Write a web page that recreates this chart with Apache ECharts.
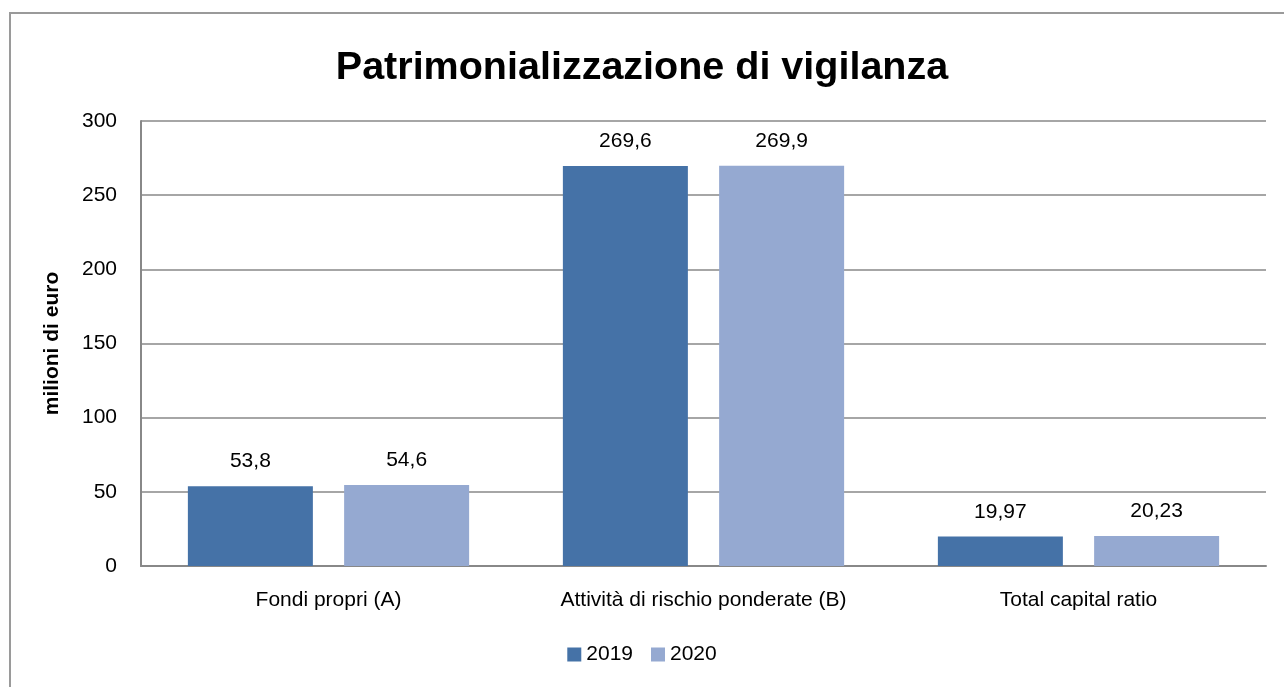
<!DOCTYPE html>
<html>
<head>
<meta charset="utf-8">
<script src="https://cdn.jsdelivr.net/npm/echarts@6/dist/echarts.min.js"></script>
<style>
html, body { margin: 0; padding: 0; background: #fff; }
#frame { position: absolute; left: 9px; top: 12px; width: 1300px; height: 700px; border: 2px solid #9a9a9a; box-sizing: border-box; }
#container { position: absolute; left: 0; top: 0; width: 1284px; height: 687px; }
</style>
</head>
<body>
<div id="frame"></div>
<div id="container"></div>
<script>
// dati del grafico
var categorie = ['Fondi propri (A)', 'Attività di rischio ponderate (B)', 'Total capital ratio'];
var anni = ['2019', '2020'];
var valori2019 = [53.8, 269.6, 19.97];
var valori2020 = [54.6, 269.9, 20.23];
var etichette2019 = ['53,8', '269,6', '19,97'];
var etichette2020 = ['54,6', '269,9', '20,23'];

var FONT = "'Liberation Sans Narrow', 'Arial Narrow', 'Liberation Sans', sans-serif";

function serie(nome, dati, etichette, colore) {
	return {
		name: nome,
		type: 'bar',
		data: dati,
		barWidth: 125,
		barGap: '25%',
		itemStyle: { color: colore },
		label: {
			show: true,
			position: 'top',
			distance: 14,
			color: '#000',
			fontSize: 21,
			fontFamily: FONT,
			formatter: function (p) { return etichette[p.dataIndex]; }
		}
	};
}

var myChart = echarts.init(document.getElementById('container'));
var option = {
	animation: false,
	title: {
		text: 'Patrimonializzazione di vigilanza',
		left: 'center',
		top: 43,
		textStyle: { fontSize: 39.5, fontWeight: 'bold', color: '#000', fontFamily: "'Liberation Sans', Arial, sans-serif" }
	},
	legend: {
		data: anni,
		bottom: 17,
		left: 'center',
		icon: 'rect',
		itemWidth: 14,
		itemHeight: 14,
		itemGap: 18,
		textStyle: { fontSize: 21, color: '#000', fontFamily: FONT }
	},
	grid: { left: 141, right: 18, top: 121, bottom: 121 },
	xAxis: {
		type: 'category',
		data: categorie,
		axisLine: { lineStyle: { color: '#888', width: 2 } },
		axisTick: { show: false },
		axisLabel: { fontSize: 21, color: '#000', fontFamily: FONT, margin: 24 }
	},
	yAxis: {
		type: 'value',
		min: 0,
		max: 300,
		interval: 50,
		name: 'milioni di euro',
		nameLocation: 'middle',
		nameGap: 78,
		nameTextStyle: { fontSize: 21, fontWeight: 'bold', color: '#000', fontFamily: FONT },
		axisLine: { show: true, lineStyle: { color: '#888', width: 2 } },
		axisTick: { show: false },
		axisLabel: { fontSize: 21, color: '#000', fontFamily: FONT, margin: 24 },
		splitLine: { lineStyle: { color: '#888', width: 1.5 } }
	},
	series: [
		serie('2019', valori2019, etichette2019, '#4572a7'),
		serie('2020', valori2020, etichette2020, '#95a9d1')
	]
};
myChart.setOption(option, true);
</script>
</body>
</html>
